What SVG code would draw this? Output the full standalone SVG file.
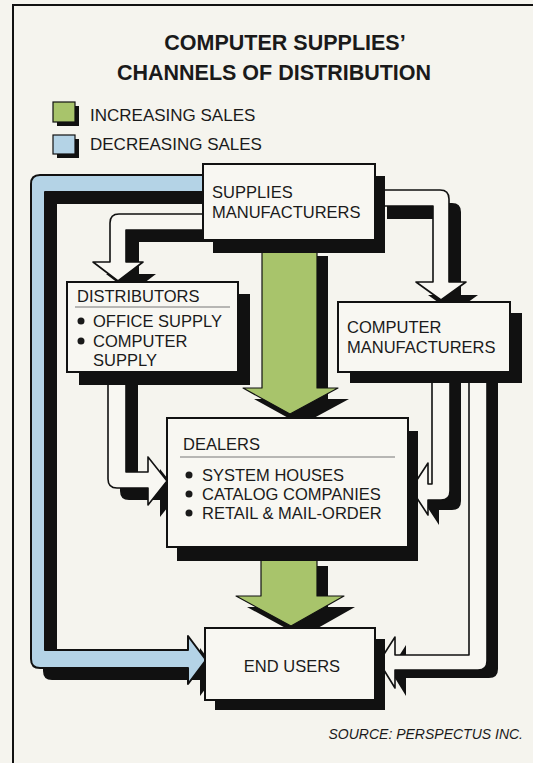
<svg xmlns="http://www.w3.org/2000/svg" width="533" height="763" viewBox="0 0 533 763">
<style>
.t{font-family:"Liberation Sans",Arial,sans-serif;fill:#1a1a1a}
.title{font-size:21.5px;font-weight:bold;text-anchor:middle}
.leg{font-size:17px}
.n{font-size:16.5px}
.box{fill:#f8f7f2;stroke:#111;stroke-width:2}
.sh{fill:#111}
.wa{fill:#f8f7f2;stroke:#111;stroke-width:1.6;stroke-linejoin:round}
.ga{fill:#a8c46b;stroke:#111;stroke-width:1.2;stroke-linejoin:round}
.ba{fill:#b4d3e6;stroke:#111;stroke-width:2;stroke-linejoin:round}
.div{stroke:#777;stroke-width:1}
</style>
<rect width="533" height="763" fill="#f5f4ee"/>
<rect x="13" y="5" width="540" height="780" fill="none" stroke="#111" stroke-width="2"/>

<g id="title">
<text class="t title" x="285" y="50">COMPUTER SUPPLIES’</text>
<text class="t title" x="274" y="80">CHANNELS OF DISTRIBUTION</text>
</g>

<g id="legend">
<rect class="sh" x="57" y="106" width="22" height="20"/>
<rect x="53" y="102" width="22" height="20" fill="#a8c46b" stroke="#111" stroke-width="1.2"/>
<text class="t leg" x="90" y="121">INCREASING SALES</text>
<rect class="sh" x="57" y="139" width="22" height="19"/>
<rect x="53" y="135" width="22" height="19" fill="#b4d3e6" stroke="#111" stroke-width="1.2"/>
<text class="t leg" x="90" y="150">DECREASING SALES</text>
</g>

<g id="connectors">
<!-- blue: supplies manufacturers -> end users -->
<g id="c-sm-eu">
<path class="sh" transform="translate(12,12)" d="M203,175 L40,175 Q31,175 31,184 L31,659 Q31,668 40,668 L188,668 L188,684 L206,660 L188,636 L188,650 L45,650 L45,192 L203,192 Z"/>
<path class="ba" d="M203,175 L40,175 Q31,175 31,184 L31,659 Q31,668 40,668 L188,668 L188,684 L206,660 L188,636 L188,650 L45,650 L45,192 L203,192 Z"/>
</g>
<!-- white: SM -> distributors -->
<g id="c-sm-dist">
<path class="sh" transform="translate(13,12)" d="M203,214 L119,214 Q110,214 110,223 L110,262 L93,262 L118,281 L143,262 L126,262 L126,230 L203,230 Z"/>
<path class="wa" d="M203,214 L119,214 Q110,214 110,223 L110,262 L93,262 L118,281 L143,262 L126,262 L126,230 L203,230 Z"/>
</g>
<!-- white: SM -> computer manufacturers -->
<g id="c-sm-cm">
<path class="sh" transform="translate(12,13)" d="M375,190 L440,190 Q449,190 449,199 L449,282 L466,282 L441,300 L416,282 L433,282 L433,206 L375,206 Z"/>
<path class="wa" d="M375,190 L440,190 Q449,190 449,199 L449,282 L466,282 L441,300 L416,282 L433,282 L433,206 L375,206 Z"/>
</g>
<!-- green: SM -> dealers -->
<g id="c-sm-dealers">
<path class="sh" transform="translate(11,11)" d="M262,245 L262,388 L243,388 L290,414 L338,388 L317,388 L317,245 Z"/>
<path class="ga" d="M262,245 L262,388 L243,388 L290,414 L338,388 L317,388 L317,245 Z"/>
</g>
<!-- green: dealers -> end users -->
<g id="c-dealers-eu">
<path class="sh" transform="translate(11,11)" d="M261,555 L261,596 L236,596 L291,626 L344,596 L317,596 L317,555 Z"/>
<path class="ga" d="M261,555 L261,596 L236,596 L291,626 L344,596 L317,596 L317,555 Z"/>
</g>
<!-- white: distributors -> dealers -->
<g id="c-dist-dealers">
<path class="sh" transform="translate(12,12)" d="M108,372 L108,479 Q108,488 117,488 L148,488 L148,505 L167,481 L148,457 L148,472 L126,472 L126,372 Z"/>
<path class="wa" d="M108,372 L108,479 Q108,488 117,488 L148,488 L148,505 L167,481 L148,457 L148,472 L126,472 L126,372 Z"/>
</g>
<!-- white: computer manufacturers -> dealers -->
<g id="c-cm-dealers">
<path class="sh" transform="translate(11,10)" d="M432,372 L432,484 L428,484 L428,463 L411,489 L428,515 L428,500 L441,500 Q450,500 450,491 L450,372 Z"/>
<path class="wa" d="M432,372 L432,484 L428,484 L428,463 L411,489 L428,515 L428,500 L441,500 Q450,500 450,491 L450,372 Z"/>
</g>
<!-- white: computer manufacturers -> end users -->
<g id="c-cm-eu">
<path class="sh" transform="translate(11,8)" d="M469,372 L469,655 L395,655 L395,637 L379,662 L395,688 L395,670 L478,670 Q487,670 487,661 L487,372 Z"/>
<path class="wa" d="M469,372 L469,655 L395,655 L395,637 L379,662 L395,688 L395,670 L478,670 Q487,670 487,661 L487,372 Z"/>
</g>
</g>

<g id="supplies-manufacturers">
<rect class="sh" x="213" y="176" width="172" height="77"/>
<rect class="box" x="203" y="164" width="172" height="76"/>
<text class="t n" x="212" y="198">SUPPLIES</text>
<text class="t n" x="212" y="218">MANUFACTURERS</text>
</g>

<g id="distributors">
<rect class="sh" x="79" y="294" width="171" height="91"/>
<rect class="box" x="67" y="282" width="171" height="90"/>
<text class="t n" x="77" y="302">DISTRIBUTORS</text>
<line class="div" x1="75" y1="307" x2="230" y2="307"/>
<circle cx="81" cy="321" r="3.5" fill="#1a1a1a"/>
<text class="t n" x="93" y="327">OFFICE SUPPLY</text>
<circle cx="81" cy="341" r="3.5" fill="#1a1a1a"/>
<text class="t n" x="93" y="347">COMPUTER</text>
<text class="t n" x="93" y="366">SUPPLY</text>
</g>

<g id="computer-manufacturers">
<rect class="sh" x="350" y="313" width="172" height="70"/>
<rect class="box" x="338" y="302" width="172" height="70"/>
<text class="t n" x="347" y="333">COMPUTER</text>
<text class="t n" x="347" y="353">MANUFACTURERS</text>
</g>

<g id="dealers">
<rect class="sh" x="177" y="431" width="241" height="130"/>
<rect class="box" x="167" y="418" width="241" height="129"/>
<text class="t n" x="183" y="450">DEALERS</text>
<line class="div" x1="180" y1="457" x2="395" y2="457"/>
<circle cx="189" cy="475" r="3.5" fill="#1a1a1a"/>
<text class="t n" x="202" y="481">SYSTEM HOUSES</text>
<circle cx="189" cy="494" r="3.5" fill="#1a1a1a"/>
<text class="t n" x="202" y="500">CATALOG COMPANIES</text>
<circle cx="189" cy="513" r="3.5" fill="#1a1a1a"/>
<text class="t n" x="202" y="519">RETAIL &amp; MAIL-ORDER</text>
</g>

<g id="end-users">
<rect class="sh" x="215" y="639" width="170" height="71"/>
<rect class="box" x="205" y="628" width="170" height="72"/>
<text class="t n" x="292" y="672" text-anchor="middle">END USERS</text>
</g>

<text class="t" x="523" y="739" font-size="14" font-style="italic" text-anchor="end">SOURCE: PERSPECTUS INC.</text>
</svg>
